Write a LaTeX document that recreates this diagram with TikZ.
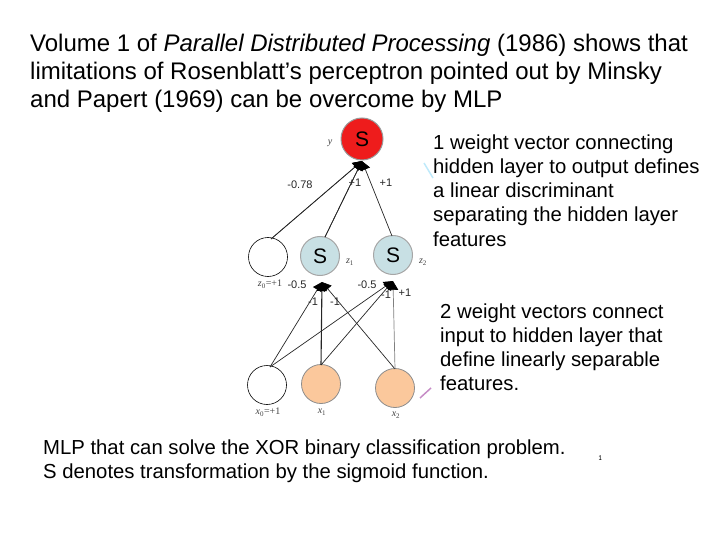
\documentclass[tikz,border=0pt]{standalone}
\usepackage{fontspec}
\setmainfont{Liberation Sans}
\newfontfamily\serifF{Liberation Serif}
\usetikzlibrary{arrows.meta}
\definecolor{redS}{HTML}{EE1C1C}
\definecolor{blueS}{HTML}{C8E0E4}
\definecolor{orangeS}{HTML}{FBC89C}
\tikzset{
  txt/.style={anchor=base west, inner sep=0pt},
  big/.style={font=\fontsize{24}{28}\selectfont},
  mid/.style={font=\fontsize{20.3}{24}\selectfont},
  neuron/.style={circle, minimum size=39pt, inner sep=0pt, font=\fontsize{21}{21}\selectfont},
  lab/.style={font=\serifF\fontsize{10}{10}\selectfont, inner sep=0pt, text=black!75},
  wt/.style={font=\fontsize{11}{11}\selectfont, inner sep=0pt, text=black!85},
  conn/.style={draw=black!85, line width=0.7pt, -{Triangle[length=9pt,width=10pt,color=black]}},
}
\begin{document}
\begin{tikzpicture}[x=1pt,y=-1pt]
\useasboundingbox (0,0) rectangle (720,540);
% title
\node[txt,big] (t1) at (30,52) {Volume 1 of \textit{Parallel Distributed Processing} (1986) shows that};
\node[txt,big] (t2) at (30,80) {limitations of Rosenblatt’s perceptron pointed out by Minsky};
\node[txt,big] (t3) at (30,108) {and Papert (1969) can be overcome by MLP};
% right text 1
\node[txt,mid] (r1) at (433,150) {1 weight vector connecting};
\node[txt,mid] (r2) at (433,174) {hidden layer to output defines};
\node[txt,mid] (r3) at (433,198) {a linear discriminant};
\node[txt,mid] (r4) at (433,222) {separating the hidden layer};
\node[txt,mid] (r5) at (433,246) {features};
% right text 2
\node[txt,mid] (s1) at (440,318) {2 weight vectors connect};
\node[txt,mid] (s2) at (440,342) {input to hidden layer that};
\node[txt,mid] (s3) at (440,366) {define linearly separable};
\node[txt,mid] (s4) at (440,390) {features.};
% bottom
\node[txt,mid] (b1) at (43,454) {MLP that can solve the XOR binary classification problem.};
\node[txt,mid] (b2) at (43,478) {S denotes transformation by the sigmoid function.};
\node[txt,font=\ttfamily\fontsize{8}{8}\selectfont] (pg) at (598,460) {1};
% faint strokes
\draw[cyan!25, line width=1.5pt] (424,163) -- (433,178);
\draw[violet!45, line width=1.5pt] (420,398) -- (431,388);
% neurons
\node[neuron, fill=redS, draw=black!40, line width=1pt, minimum size=42pt] (y) at (362,139) {S};
\node[neuron, draw=black, line width=0.6pt] (z0) at (268,257) {};
\node[neuron, fill=blueS, draw=black!35, line width=1pt] (z1) at (320,256) {S};
\node[neuron, fill=blueS, draw=black!35, line width=1pt] (z2) at (393,255) {S};
\node[neuron, draw=black, line width=0.6pt] (x0) at (267,385) {};
\node[neuron, fill=orangeS, draw=black!45, line width=0.8pt] (x1) at (321,384) {};
\node[neuron, fill=orangeS, draw=black!45, line width=0.8pt] (x2) at (395,388) {};
% labels
\node[lab] (ly) at (330,143) {\textit{y}};
\node[lab] (lz1) at (350,262) {\textit{z}\textsubscript{1}};
\node[lab] (lz2) at (423,262) {\textit{z}\textsubscript{2}};
\node[lab] (lz0) at (270,284) {\textit{z}\textsubscript{0}=+1};
\node[lab] (lx0) at (268,412) {\textit{x}\textsubscript{0}=+1};
\node[lab] (lx1) at (322,412) {\textit{x}\textsubscript{1}};
\node[lab] (lx2) at (396,415) {\textit{x}\textsubscript{2}};
% anchors
\coordinate (ytip) at (362,161);
\coordinate (z1tip) at (322,282);
\coordinate (z2tip) at (393,281);
\coordinate (zzero) at (271,239);
\coordinate (z1top) at (325,237);
\coordinate (z2top) at (392,236);
\coordinate (x0top) at (270,367);
\coordinate (x1top) at (321,365);
\coordinate (x2top) at (395,369);
% connectors
\draw[conn] (zzero) -- (ytip);
\draw[conn] (z1top) -- (ytip);
\draw[conn] (z2top) -- (ytip);
\draw[conn] (x0top) -- (z1tip);
\draw[conn] (x0top) -- (z2tip);
\draw[conn, line width=1.1pt] (x1top) -- (z1tip);
\draw[conn] (x1top) -- (z2tip);
\draw[conn] (x2top) -- (z1tip);
\draw[conn, draw=black!50] (x2top) -- (z2tip);
\draw[conn] (zzero) -- (ytip);
\draw[conn] (z1top) -- (ytip);
% weights
\node[wt] (w1) at (300,185) {-0.78};
\node[wt] (w2) at (355,183) {+1};
\node[wt] (w3) at (386,183) {+1};
\node[wt] (w4) at (297,285) {-0.5};
\node[wt] (w5) at (313,302) {-1};
\node[wt] (w6) at (335,302) {-1};
\node[wt] (w7) at (367,285) {-0.5};
\node[wt] (w8) at (386,295) {-1};
\node[wt] (w9) at (405,293) {+1};
\end{tikzpicture}
\end{document}
